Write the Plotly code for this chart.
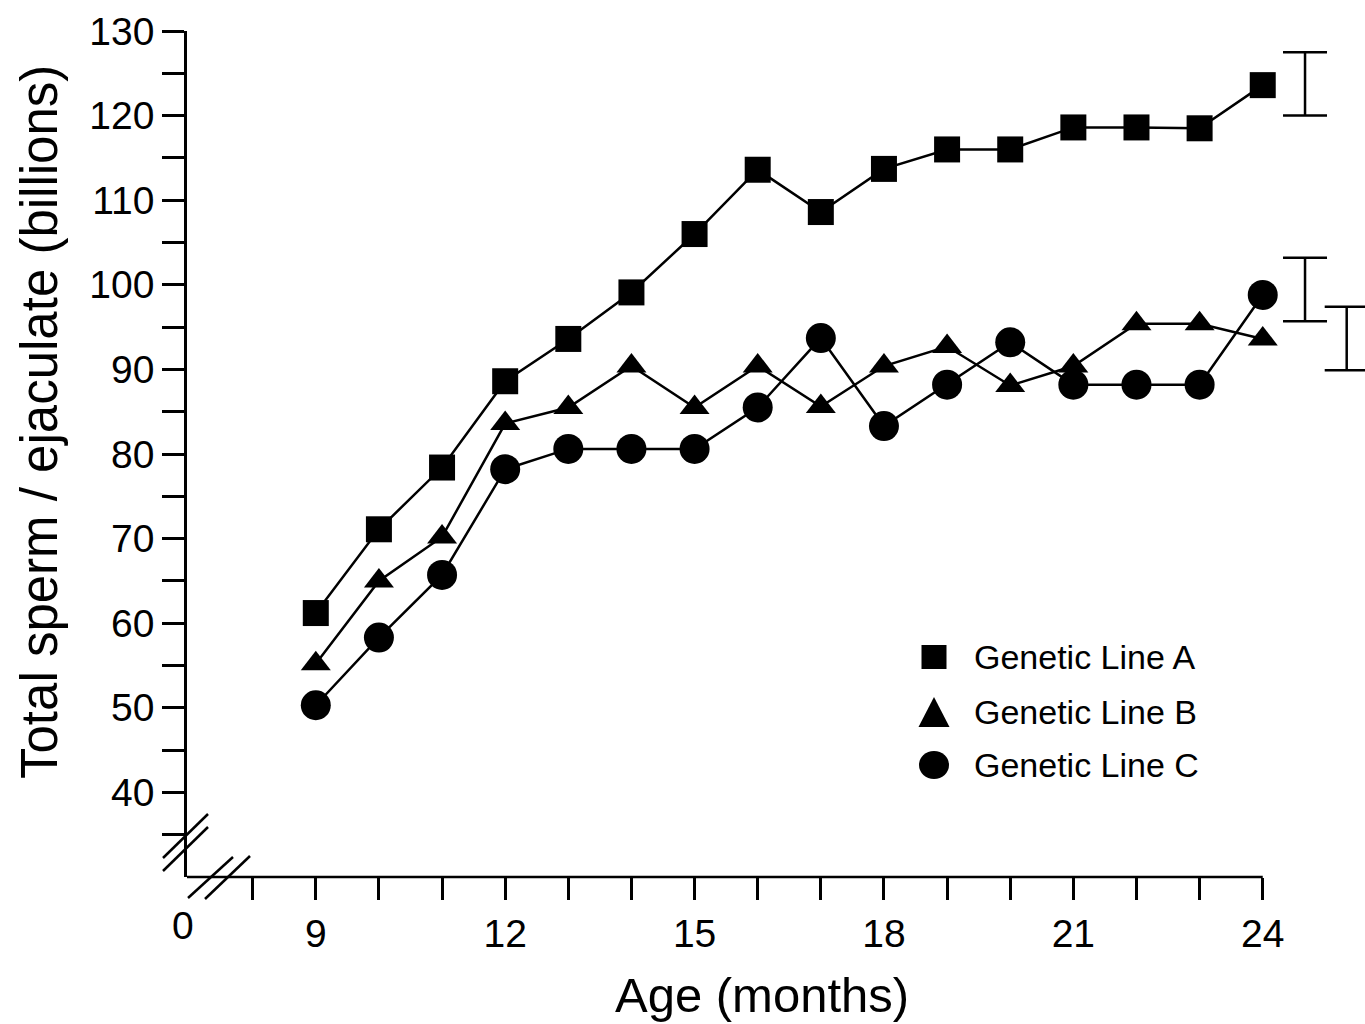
import plotly.graph_objects as go

# ---------------- data ----------------
months = [9, 10, 11, 12, 13, 14, 15, 16, 17, 18, 19, 20, 21, 22, 23, 24]
line_a = [61.2, 71.1, 78.4, 88.6, 93.6, 99.1, 106.0, 113.6, 108.6, 113.7, 116.0, 116.0, 118.6, 118.6, 118.5, 123.6]
line_b = [55.2, 65.0, 70.2, 83.6, 85.5, 90.4, 85.5, 90.4, 85.6, 90.4, 92.7, 88.1, 90.4, 95.4, 95.4, 93.6]
line_c = [50.3, 58.3, 65.7, 78.2, 80.6, 80.6, 80.6, 85.5, 93.7, 83.3, 88.2, 93.2, 88.2, 88.2, 88.2, 98.8]
series_names = ["Genetic Line A", "Genetic Line B", "Genetic Line C"]

# pooled SEM bars drawn to the right of the last point
sem_x = [24.67, 24.67, 25.33]
sem_center = [123.75, 99.45, 93.65]
sem_half = [3.75, 3.75, 3.75]

x_tick_vals = list(range(8, 25))
x_tick_labels = ["9", "12", "15", "18", "21", "24"]
y_tick_vals = list(range(35, 131, 5))
y_tick_labels = ["40", "50", "60", "70", "80", "90", "100", "110", "120", "130"]

# ---------------- layout geometry ----------------
FW, FH = 1365, 1024
L, T, R, B = 187, 31, 0, 147
W = FW - L - R
H = FH - T - B
XMIN = 6.96
XMAX = XMIN + W / 63.13
YMIN, YMAX = 30, 130

FONT = "Liberation Sans, Arial, sans-serif"


def px(xp):
    return (xp - L) / W


def py(yp):
    return (T + H - yp) / H


def xd(v):
    return (v - XMIN) / (XMAX - XMIN)


fig = go.Figure()

symbols = ["square", "triangle-up", "circle"]
sizes = [26, 26, 30]
for name, vals, sym, sz in zip(series_names, [line_a, line_b, line_c], symbols, sizes):
    fig.add_trace(go.Scatter(
        x=months, y=vals, name=name, mode="lines+markers",
        line=dict(color="black", width=2.5),
        marker=dict(symbol=sym, size=sz, color="black", line=dict(width=0)),
        showlegend=False, cliponaxis=False,
    ))

fig.add_trace(go.Scatter(
    x=sem_x, y=sem_center, mode="markers",
    marker=dict(size=1, color="rgba(0,0,0,0)"),
    error_y=dict(type="data", array=sem_half, symmetric=True,
                 width=22, thickness=2.5, color="black"),
    showlegend=False, hoverinfo="skip",
))

x_text = []
for v in x_tick_vals:
    x_text.append(str(v) if str(v) in x_tick_labels else "")
y_text = []
for v in y_tick_vals:
    y_text.append(str(v) if str(v) in y_tick_labels else "")

fig.update_xaxes(
    range=[XMIN, XMAX], showgrid=False, zeroline=False, showline=False,
    tickmode="array", tickvals=x_tick_vals, ticktext=x_text,
    ticks="outside", ticklen=22, tickwidth=2.5, tickcolor="black",
    tickfont=dict(family=FONT, size=39, color="black"),
    ticklabelstandoff=0,
)
fig.update_yaxes(
    range=[YMIN, YMAX], showgrid=False, zeroline=False,
    showline=True, linewidth=2.5, linecolor="black",
    tickmode="array", tickvals=y_tick_vals, ticktext=y_text,
    ticks="outside", ticklen=22, tickwidth=2.5, tickcolor="black",
    tickfont=dict(family=FONT, size=39, color="black"),
    ticklabelstandoff=0,
)

shapes = []
# x axis line (from origin to 24)
shapes.append(dict(type="line", xref="paper", yref="paper",
                   x0=0, x1=xd(24), y0=0, y1=0,
                   line=dict(color="black", width=2.5)))
# axis break marks
for (x0, y0, x1, y1) in [(163, 858, 208, 814), (163, 871, 208, 827),
                         (188, 898, 233, 857), (205, 899, 250, 856)]:
    shapes.append(dict(type="line", xref="paper", yref="paper",
                       x0=px(x0), y0=py(y0), x1=px(x1), y1=py(y1),
                       line=dict(color="black", width=2.5)))

# legend glyphs
lx = 934
leg_y = [657, 712, 765]
shapes.append(dict(type="rect", xref="paper", yref="paper",
                   x0=px(lx - 12.5), x1=px(lx + 12.5),
                   y0=py(leg_y[0] + 12), y1=py(leg_y[0] - 12),
                   fillcolor="black", line=dict(width=0)))
tri_path = "M {a},{b} L {c},{b} L {d},{e} Z".format(
    a=px(lx - 15.5), b=py(leg_y[1] + 15), c=px(lx + 15.5), d=px(lx), e=py(leg_y[1] - 15))
shapes.append(dict(type="path", xref="paper", yref="paper", path=tri_path,
                   fillcolor="black", line=dict(width=0)))
shapes.append(dict(type="circle", xref="paper", yref="paper",
                   x0=px(lx - 15), x1=px(lx + 15),
                   y0=py(leg_y[2] + 14), y1=py(leg_y[2] - 14),
                   fillcolor="black", line=dict(width=0)))

annotations = []
for name, yy in zip(series_names, leg_y):
    annotations.append(dict(text=name, xref="paper", yref="paper",
                            x=px(972), y=py(yy), xanchor="left", yanchor="middle",
                            showarrow=False,
                            font=dict(family=FONT, size=34, color="black")))
# "0" label at the origin
annotations.append(dict(text="0", xref="paper", yref="paper",
                        x=px(183), y=py(925), xanchor="center", yanchor="middle",
                        showarrow=False, font=dict(family=FONT, size=39, color="black")))
# axis titles
annotations.append(dict(text="Age (months)", xref="paper", yref="paper",
                        x=px(762), y=py(995), xanchor="center", yanchor="middle",
                        showarrow=False, font=dict(family=FONT, size=49, color="black")))
annotations.append(dict(text="Total sperm / ejaculate (billions)", xref="paper", yref="paper",
                        x=px(40), y=py(422), xanchor="center", yanchor="middle",
                        textangle=-90, showarrow=False,
                        font=dict(family=FONT, size=51, color="black")))

fig.update_layout(
    width=FW, height=FH,
    margin=dict(l=L, r=R, t=T, b=B, pad=0),
    paper_bgcolor="white", plot_bgcolor="white",
    shapes=shapes, annotations=annotations,
    font=dict(family=FONT, color="black"),
    showlegend=False,
)

fig.write_html("out.html", config={"displayModeBar": False},
               post_script="document.body.style.margin='0';")
